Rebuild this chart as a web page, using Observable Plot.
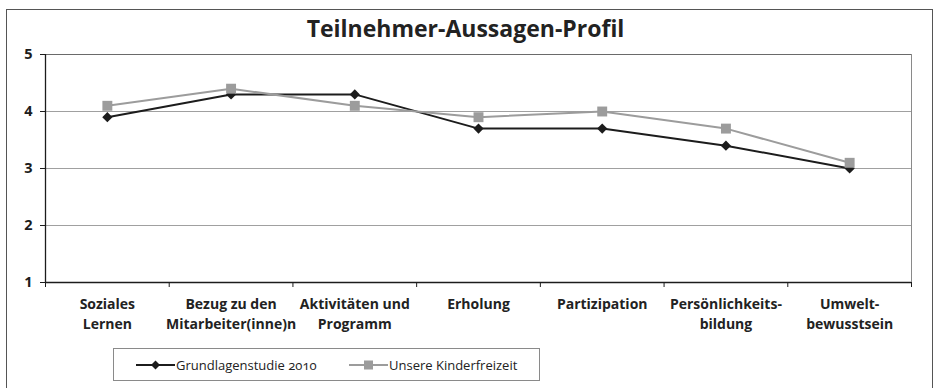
<!DOCTYPE html>
<html>
<head>
<meta charset="utf-8">
<script src="https://cdn.jsdelivr.net/npm/d3@7"></script>
<script src="https://cdn.jsdelivr.net/npm/@observablehq/plot@0.6"></script>
<style>
  html, body { margin: 0; padding: 0; background: #fff; }
  #chart { position: relative; width: 935px; height: 388px; overflow: hidden; font-family: "Open Sans", sans-serif; }
  #chart > svg { position: absolute; left: 0; top: 0; }
  #frame { position: absolute; left: 6px; top: 9px; width: 927px; height: 400px; border: 1px solid #555; border-bottom: none; box-sizing: border-box; pointer-events: none; }
  #legend { position: absolute; left: 113px; top: 348px; width: 427px; height: 33px; border: 1px solid #8a8a8a; box-sizing: border-box; background: #fff; }
  .item { position: absolute; top: 0; height: 31px; display: flex; align-items: center; font-size: 13px; color: #222; font-variant-numeric: oldstyle-nums; white-space: nowrap; }
  .item svg { display: block; margin-right: 1px; }
</style>
</head>
<body>
<div id="chart">
  <div id="frame"></div>
</div>
<script>
// Category labels along the x axis (line breaks as printed)
const categories = [
  "Soziales\nLernen",
  "Bezug zu den\nMitarbeiter(inne)n",
  "Aktivitäten und\nProgramm",
  "Erholung",
  "Partizipation",
  "Persönlichkeits-\nbildung",
  "Umwelt-\nbewusstsein"
];
// Mean ratings per category
const grundlagenstudie = [3.9, 4.3, 4.3, 3.7, 3.7, 3.4, 3.0];
const kinderfreizeit   = [4.1, 4.4, 4.1, 3.9, 4.0, 3.7, 3.1];
const seriesNames = ["Grundlagenstudie 2010", "Unsere Kinderfreizeit"];
const yTicks = [1, 2, 3, 4, 5];
const title = "Teilnehmer-Aussagen-Profil";

const dark = "#1c1c1c";
const grey = "#9c9c9c";

// Each category occupies one unit band; values sit in the band centre
const rows = categories.map((label, i) => ({
  pos: i + 0.5,
  label,
  g: grundlagenstudie[i],
  k: kinderfreizeit[i]
}));
const bandEdges = d3.range(0, categories.length + 1);

const plot = Plot.plot({
  width: 935,
  height: 388,
  marginTop: 54,
  marginBottom: 106,
  marginLeft: 45,
  marginRight: 24,
  x: { domain: [0, categories.length], axis: null },
  y: { domain: [1, 5], axis: null },
  style: { fontFamily: "'Open Sans', sans-serif", background: "transparent", overflow: "visible" },
  marks: [
    Plot.gridY([2, 3, 4], { stroke: "#a0a0a0", strokeOpacity: 1 }),
    Plot.ruleY([5], { stroke: "#6a6a6a" }),
    Plot.ruleX([categories.length], { y1: 1, y2: 5, stroke: "#8a8a8a" }),
    Plot.axisY(yTicks, {
      tickSize: 5, tickPadding: 8, tickFormat: d3.format("d"),
      fontSize: 14.5, fontWeight: "bold", color: dark, label: null
    }),
    Plot.axisX(bandEdges, { tickSize: 5, tickFormat: () => "", color: dark, label: null }),
    Plot.ruleX([0], { y1: 1, y2: 5, stroke: dark, strokeWidth: 1.3 }),
    Plot.ruleY([1], { stroke: dark, strokeWidth: 1.3 }),
    Plot.text(rows, {
      x: "pos", text: "label", frameAnchor: "bottom", dy: 12, lineAnchor: "top",
      fontSize: 14, fontWeight: "bold", lineHeight: 1.43, fill: "#222"
    }),
    Plot.line(rows, { x: "pos", y: "g", stroke: dark, strokeWidth: 2 }),
    Plot.dot(rows, { x: "pos", y: "g", symbol: "diamond2", r: 4.6, fill: dark, stroke: "none" }),
    Plot.line(rows, { x: "pos", y: "k", stroke: grey, strokeWidth: 2 }),
    Plot.dot(rows, { x: "pos", y: "k", symbol: "square", r: 5.6, fill: grey, stroke: "none" }),
    Plot.text([title], {
      frameAnchor: "top", dx: -13, dy: -25, lineAnchor: "middle",
      fontSize: 23, fontWeight: "bold", fill: "#222"
    })
  ]
});

const chart = document.getElementById("chart");
chart.insertBefore(plot, chart.firstChild);

// Legend below the plot
const legend = document.createElement("div");
legend.id = "legend";
const sample = (kind, color) => {
  const mk = kind === "diamond"
    ? `<path d="M19.5,1.5 L24,6 L19.5,10.5 L15,6 Z" fill="${color}"/>`
    : `<rect x="15" y="1.5" width="9" height="9" fill="${color}"/>`;
  return `<svg width="39" height="12" viewBox="0 0 39 12"><line x1="0" y1="6" x2="39" y2="6" stroke="${color}" stroke-width="2"/>${mk}</svg>`;
};
legend.innerHTML =
  `<div class="item" style="left:22px">${sample("diamond", dark)}<span>${seriesNames[0]}</span></div>` +
  `<div class="item" style="left:235px">${sample("square", grey)}<span>${seriesNames[1]}</span></div>`;
chart.appendChild(legend);
</script>
</body>
</html>
